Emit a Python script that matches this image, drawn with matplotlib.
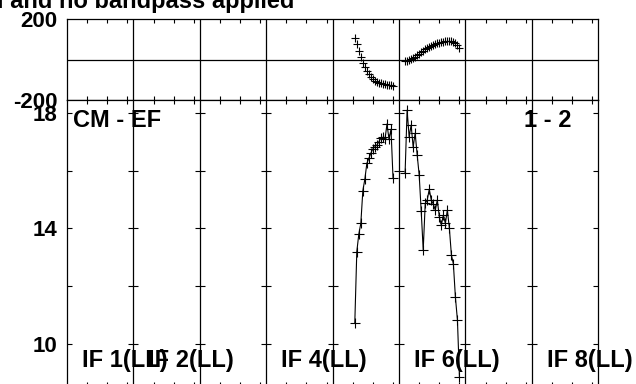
import matplotlib
matplotlib.use("Agg")
import matplotlib.pyplot as plt
import numpy as np

plt.rcParams['font.family'] = ['Liberation Sans', 'DejaVu Sans']
plt.rcParams['font.weight'] = 'bold'

# ---------------- data ----------------
title_text = "Cross-power spectrum, with cal and no bandpass applied"
baseline_label = "1 - 2"
source_label = "CM - EF"
n_ifs = 8
if_label_numbers = [1, 2, 4, 6, 8]
if_label_texts = ["IF 1(LL)", "IF 2(LL)", "IF 4(LL)", "IF 6(LL)", "IF 8(LL)"]

if5_channels = list(range(11, 31))
if5_phase = [105, 75, 42, 14, -16, -39, -57, -73, -86, -96,
             -105, -110, -114, -118, -121, -123, -124, -126, -127, -129]
if5_amp = [10.71, 13.19, 13.80, 14.17, 15.30, 15.70, 16.25, 16.42, 16.60, 16.75,
           16.82, 16.88, 17.00, 17.13, 17.15, 17.08, 17.61, 17.08, 17.43, 15.73]

if6_channels = list(range(3, 31))
if6_phase = [-8, -6, -3, 2, 8, 14, 21, 28, 36, 43, 50, 56, 62, 67,
             72, 76, 80, 83, 86, 88, 90, 91, 91, 90, 87, 80, 70, 58]
if6_amp = [15.92, 18.09, 17.17, 17.57, 16.82, 17.29, 16.54, 15.84, 14.60, 13.25,
           14.86, 14.98, 15.35, 14.98, 14.84, 14.63, 14.98, 14.40, 14.11, 14.46,
           14.17, 14.63, 14.00, 13.08, 12.76, 11.61, 10.83, 8.87]

phase_ticks = [-200, 200]
phase_tick_labels = ["-200", "200"]
amp_ticks = [10, 12, 14, 16, 18]
amp_tick_labels = ["10", "", "14", "", "18"]
chan_minor = [10, 20, 30]

# ---------------- layout ----------------
P = 33.0  # channel-units per IF panel
W, H = 636, 384
fig = plt.figure(figsize=(W / 100, H / 100), dpi=100)
left_px, right_px = 67, 598.3
top_top, top_bot = 19, 100
bot_bot = 385.5
ax_top = fig.add_axes([left_px / W, (H - top_bot) / H, (right_px - left_px) / W, (top_bot - top_top) / H])
ax_bot = fig.add_axes([left_px / W, (H - bot_bot) / H, (right_px - left_px) / W, (bot_bot - top_bot) / H])

px_per_unit = 28.9
amp_top = 18 + (112.7 - top_bot) / px_per_unit
amp_bot = 18 - (bot_bot - 112.7) / px_per_unit

for ax in (ax_top, ax_bot):
    ax.set_xlim(0, n_ifs * P)
    for s in ax.spines.values():
        s.set_linewidth(0.9)
        s.set_color('black')
    for k in range(1, n_ifs):
        ax.axvline(k * P, color='black', lw=0.9, zorder=1)
    minor = [k * P + m for k in range(n_ifs) for m in chan_minor]
    ax.set_xticks(minor)
    ax.set_xticklabels([])
    ax.tick_params(axis='x', which='both', direction='in', top=True, bottom=True,
                   length=3.0, width=0.8, labelbottom=False)

ax_top.set_ylim(-200, 200)
ax_top.axhline(0, color='black', lw=0.9, zorder=1)
ax_top.set_yticks(phase_ticks)
ax_top.set_yticklabels(phase_tick_labels, fontsize=16, fontweight='bold')
ax_top.tick_params(axis='y', length=0, pad=7)

ax_bot.set_ylim(amp_bot, amp_top)
ax_bot.set_yticks(amp_ticks)
ax_bot.set_yticklabels(amp_tick_labels, fontsize=16, fontweight='bold')
ax_bot.tick_params(axis='y', direction='in', left=True, right=True, length=3.6, width=0.8, pad=7)
half = 5.0 / (((right_px - left_px) / n_ifs) / P)
for k in range(1, n_ifs):
    ax_bot.hlines(amp_ticks, k * P - half, k * P + half, color='black', lw=0.8, zorder=1)

# ---------------- data marks ----------------
x5 = [4 * P + c for c in if5_channels]
x6 = [5 * P + c for c in if6_channels]
for xs, ph in ((x5, if5_phase), (x6, if6_phase)):
    ax_top.plot(xs, ph, ls='none', marker='+', ms=6, mew=0.8, color='black', zorder=3)
for xs, am in ((x5, if5_amp), (x6, if6_amp)):
    ax_bot.plot(xs, am, '-', marker='+', ms=7, mew=0.8, lw=0.8, color='black', zorder=3)

# ---------------- texts ----------------
unit_px = ((right_px - left_px) / n_ifs) / P
txt_y = 18 - (126.7 - 112.7) / px_per_unit
ax_bot.text(5.7 / unit_px, txt_y, source_label, ha='left', va='baseline',
            fontsize=17, fontweight='bold')
ax_bot.text((572 - left_px) / unit_px, txt_y, baseline_label, ha='right', va='baseline',
            fontsize=17, fontweight='bold')
lab_y = 18 - (366.7 - 112.7) / px_per_unit
for n, t in zip(if_label_numbers, if_label_texts):
    ax_bot.text((n - 1) * P + 15.0 / unit_px, lab_y, t, ha='left', va='baseline',
                fontsize=17, fontweight='bold')

fig.text(294 / W, 1 - 8.3 / H, title_text, ha='right', va='baseline',
         fontsize=17, fontweight='bold')

fig.savefig('out.png', dpi=100)
